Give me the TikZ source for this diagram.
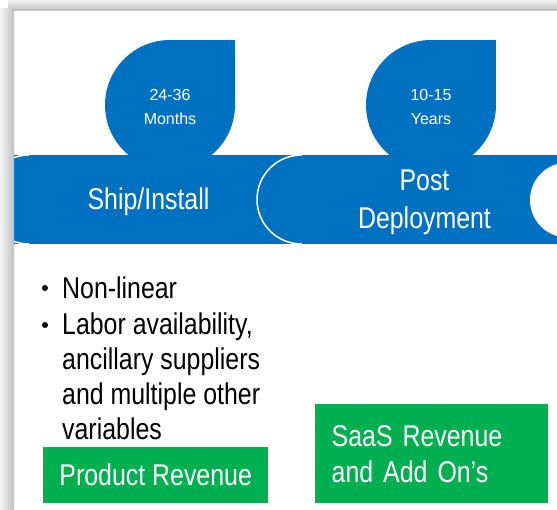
\documentclass[tikz,border=0pt]{standalone}
\usepackage{fontspec}
\setmainfont[FakeStretch=0.83]{Liberation Sans}
\newfontfamily\tagfont{Liberation Sans}
\definecolor{stageblue}{HTML}{0070C0}
\definecolor{revgreen}{HTML}{00B050}
\tikzset{
  stagetxt/.style={font=\fontsize{30}{38}\selectfont, text=white, inner sep=0pt, align=center},
  tagtxt/.style={font=\tagfont\fontsize{16}{24}\selectfont, text=white, inner sep=0pt, align=center},
  listtxt/.style={font=\fontsize{30}{35}\selectfont, inner sep=0pt, align=left},
  revbox/.style={fill=revgreen, text=white, font=\fontsize{30}{36}\selectfont, inner sep=0pt},
  dot/.style={circle, fill=black, inner sep=0pt, minimum size=6pt},
}
\begin{document}
\begin{tikzpicture}[x=1pt, y=-1pt]
  \useasboundingbox (0,0) rectangle (557,509);
  \fill[white] (0,0) rectangle (557,509);

  \foreach \cx in {170,431}{
    \fill[stageblue] (\cx,105) circle (65);
    \fill[stageblue] (\cx,40) rectangle (\cx+65,105);
  }

  \fill[stageblue] (14,155) rectangle (557,244);
  \fill[white] (567.5,200) circle (37.5);
  \begin{scope}
    \clip (14,150) rectangle (29,250);
    \draw[white, line width=1.5pt] (29,199.5) circle (44.5);
  \end{scope}
  \begin{scope}
    \clip (250,150) rectangle (301.5,250);
    \draw[white, line width=1.5pt] (301.5,199.5) circle (44.5);
  \end{scope}

  \node[tagtxt] (months) at (170,107) {24-36\\Months};
  \node[tagtxt] (years) at (431,107) {10-15\\Years};

  \node[stagetxt, anchor=base] (ship) at (148.5,209) {Ship/Install};
  \node[stagetxt] (post) at (424.5,202.5) {Post\\Deployment};

  \node[listtxt, anchor=base west] (nonlin) at (62,298) {Non-linear};
  \node[listtxt, anchor=north west] (labor) at (62,313) {Labor availability,\\ancillary suppliers\\and multiple other\\variables};
  \node[dot] (d1) at (45,288) {};
  \node[dot] (d2) at (45,325) {};

  \node[revbox, minimum width=225pt, minimum height=56pt, anchor=north west] (prodrev) at (43,447) {Product Revenue};
  \node[revbox, minimum width=233pt, minimum height=99pt, text width=200pt, align=left, anchor=north west] (saasrev) at (315,404) {SaaS Revenue\\and Add On’s};

  \shade[top color=gray!10, bottom color=gray!50] (8,0) rectangle (557,10);
  \shade[left color=gray!10, right color=gray!50] (0,8) rectangle (14,509);
\end{tikzpicture}
\end{document}
